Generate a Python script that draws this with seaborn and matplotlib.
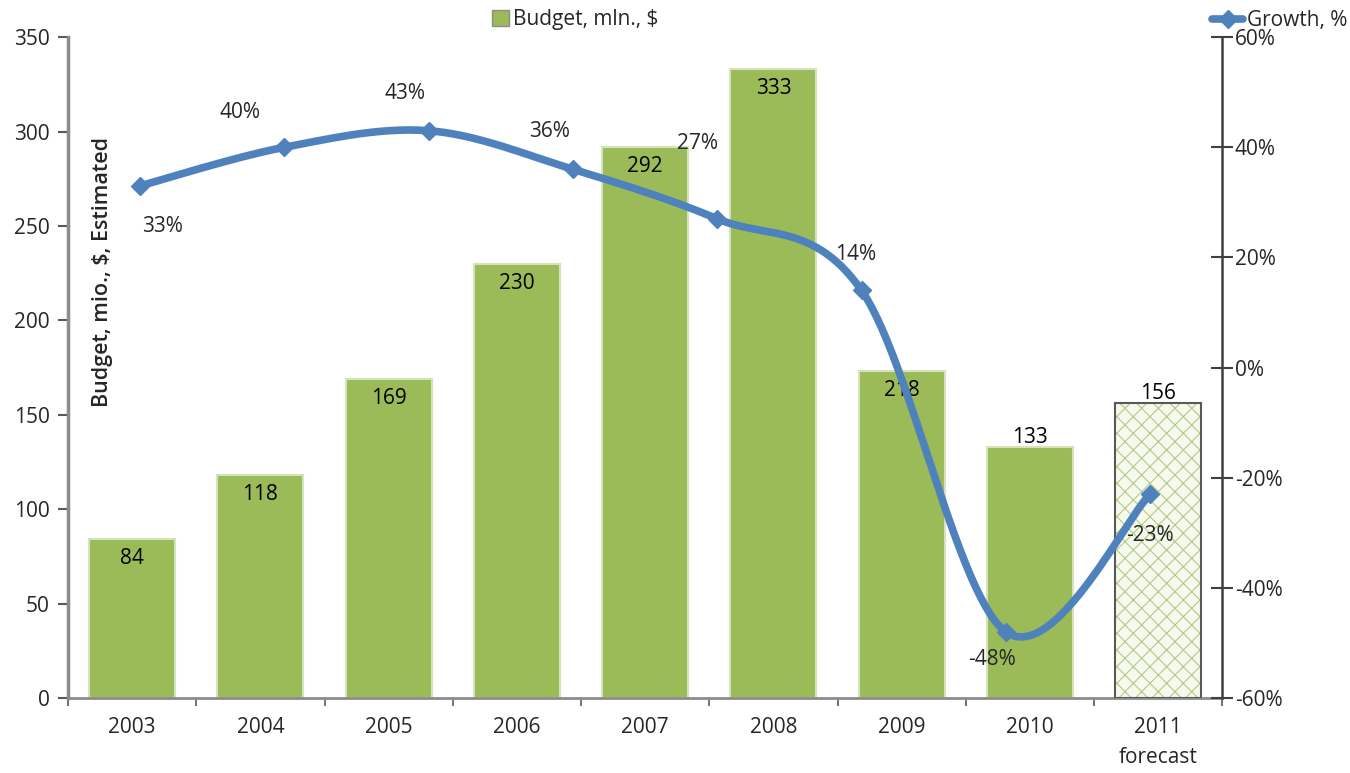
import numpy as np
import seaborn as sns
import matplotlib
matplotlib.use('Agg')
import matplotlib.pyplot as plt
from matplotlib.patches import Patch
from matplotlib.lines import Line2D

# Chart data
years = ["2003", "2004", "2005", "2006", "2007", "2008", "2009", "2010", "2011\nforecast"]
budget = [84, 118, 169, 230, 292, 333, 173, 133, 156]
budget_labels = ["84", "118", "169", "230", "292", "333", "218", "133", "156"]
growth = [33, 40, 43, 36, 27, 14, -48, -23]
growth_labels = ["33%", "40%", "43%", "36%", "27%", "14%", "-48%", "-23%"]

# styling
GREEN = "#9BBB59"
BLUE = "#4F81BD"
TXT = "#262626"
FS = 15

sns.set_style("white")
plt.rcParams['font.family'] = ["Open Sans", "DejaVu Sans"]
plt.rcParams['hatch.linewidth'] = 0.8


def smooth_curve(xs, ys, steps=30):
    """Excel-like smoothed line: cubic bezier segments with catmull-rom control points."""
    pts = np.column_stack([xs, ys]).astype(float)
    n = len(pts)
    out = []
    t = np.linspace(0, 1, steps)[:, None]
    for i in range(n - 1):
        p0 = pts[max(i - 1, 0)]
        p1 = pts[i]
        p2 = pts[i + 1]
        p3 = pts[min(i + 2, n - 1)]
        c1 = p1 + (p2 - p0) / 6.0
        c2 = p2 - (p3 - p1) / 6.0
        seg = ((1 - t) ** 3) * p1 + 3 * ((1 - t) ** 2) * t * c1 + 3 * (1 - t) * t ** 2 * c2 + t ** 3 * p2
        out.append(seg if i == 0 else seg[1:])
    out = np.vstack(out)
    return out[:, 0], out[:, 1]


fig = plt.figure(figsize=(13.5, 7.73), dpi=100)
ax = fig.add_axes([0.0504, 0.097, 0.855, 0.855])

# budget bars
sns.barplot(x=years, y=budget, ax=ax, color=GREEN, width=0.67, saturation=1,
            edgecolor="#D5E3BC", linewidth=1.5, zorder=2)

# forecast bar: hatched with light fill
fc = ax.patches[-1]
fc.set_facecolor("#F6FAEC")
fc.set_edgecolor("#B3C98A")
fc.set_hatch("xx")
fc.set_linewidth(0)
ax.bar(len(years) - 1, budget[-1], width=0.67, fill=False, edgecolor="#595959",
       linewidth=1.5, zorder=3)

ax.set_xlim(-0.5, len(years) - 0.5)
ax.set_ylim(0, 350)
ax.set_yticks(range(0, 351, 50))
ax.set_xlabel("")
ax.set_ylabel("")

# bar value labels
bar_offsets = [-14, -14, -14, -14, -14, -14, -14, 7, 7]
for i, (v, lab) in enumerate(zip(budget, budget_labels)):
    ax.annotate(lab, xy=(i, v), xytext=(0, bar_offsets[i]), textcoords="offset points",
                ha="center", va="center", fontsize=FS, color="black", zorder=4)

# axes styling
for s in ["top", "right"]:
    ax.spines[s].set_visible(False)
ax.spines["left"].set_color("#8C8C8C")
ax.spines["left"].set_linewidth(2.5)
ax.spines["bottom"].set_color("#8C8C8C")
ax.spines["bottom"].set_linewidth(2)
ax.tick_params(axis="y", which="major", direction="out", length=7, width=1.5,
               color="#595959", labelsize=FS, labelcolor=TXT, pad=6, left=True)
ax.set_xticks(np.arange(len(years)))
ax.set_xticklabels(years, linespacing=1.55)
ax.set_xticks(np.arange(len(years) + 1) - 0.5, minor=True)
ax.tick_params(axis="x", which="major", length=0, pad=14, labelsize=FS, labelcolor=TXT)
ax.tick_params(axis="x", which="minor", direction="out", length=6, width=1.2,
               color="#595959", bottom=True)

ax.text(0.03, 0.645, "Budget, mio., $, Estimated", transform=ax.transAxes, rotation=90,
        ha="center", va="center", fontsize=15.5, fontweight="semibold", color=TXT)

# growth axis (right) with its own category scale for the 8 growth points
ax2 = ax.twinx()
ax2.set_ylim(-60, 60)
ax2.set_yticks(range(-60, 61, 20))
ax2.set_yticklabels([f"{v}%" for v in range(-60, 61, 20)])
for s in ["top", "left", "bottom"]:
    ax2.spines[s].set_visible(False)
ax2.spines["right"].set_color("#404040")
ax2.spines["right"].set_linewidth(1.8)
ax2.tick_params(axis="y", direction="inout", length=16, width=1.5, color="#404040",
                labelsize=FS, labelcolor=TXT, pad=1)

ax3 = ax2.twiny()
ax3.set_xlim(-0.5, len(growth) - 0.5)
ax3.set_xticks([])
for s in ["top", "left", "bottom", "right"]:
    ax3.spines[s].set_visible(False)

gx = np.arange(len(growth))
sx, sy = smooth_curve(gx, growth)
sns.lineplot(x=sx, y=sy, ax=ax3, sort=False, color=BLUE, linewidth=5.5, zorder=5,
             legend=False)
ax3.plot(gx, growth, linestyle="none", marker="D", markersize=9, color=BLUE, zorder=6)

growth_offsets = [(16, -29), (-32, 25), (-17, 27), (-17, 27), (-14, 54), (-4, 26),
                  (-10, -20), (0, -30)]
for i, (v, lab) in enumerate(zip(growth, growth_labels)):
    ax3.annotate(lab, xy=(i, v), xytext=growth_offsets[i], textcoords="offset points",
                 ha="center", va="center", fontsize=FS, color=TXT, zorder=7)

# legends
h1 = Patch(facecolor=GREEN, edgecolor="#8C8C8C", linewidth=1)
leg1 = fig.legend([h1], ["Budget, mln., $"], loc="center", bbox_to_anchor=(0.426, 0.975),
                  frameon=False, fontsize=FS, handlelength=0.8, handleheight=0.8,
                  handletextpad=0.2, labelcolor=TXT)
h2 = Line2D([0], [0], color=BLUE, linewidth=5.5, marker="D", markersize=9)
leg2 = fig.legend([h2], ["Growth, %"], loc="center", bbox_to_anchor=(0.948, 0.973),
                  frameon=False, fontsize=FS, handlelength=1.5, handletextpad=0.2,
                  labelcolor=TXT)

fig.savefig("out.png", dpi=100)
